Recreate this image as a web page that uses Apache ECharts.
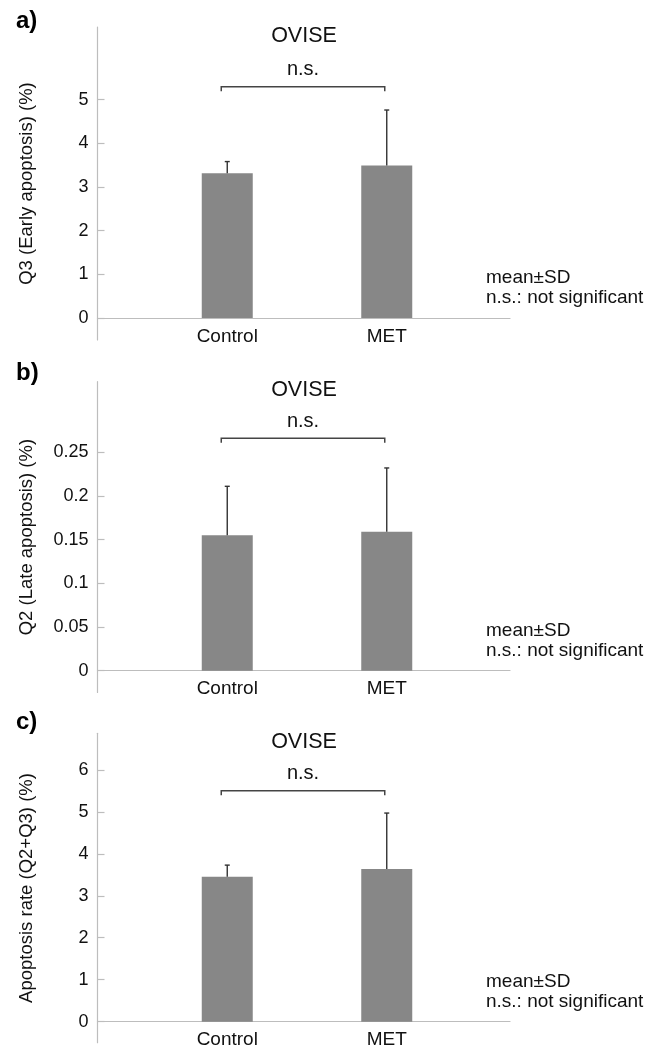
<!DOCTYPE html>
<html>
<head>
<meta charset="utf-8">
<script src="https://cdn.jsdelivr.net/npm/echarts@6/dist/echarts.min.js"></script>
<style>
html,body{margin:0;padding:0;background:#fff;}
#chart{width:654px;height:1049px;}
</style>
</head>
<body>
<div id="chart"></div>
<script>
// ---- data ----
const categories = ['Control', 'MET'];
const q3Mean = [3.31, 3.49];
const q3SD = [0.27, 1.27];
const q2Mean = [0.155, 0.159];
const q2SD = [0.056, 0.073];
const rateMean = [3.45, 3.64];
const rateSD = [0.28, 1.33];
const q3Ticks = [0, 1, 2, 3, 4, 5];
const q2Ticks = [0, 0.05, 0.1, 0.15, 0.2, 0.25];
const rateTicks = [0, 1, 2, 3, 4, 5, 6];
const bracketLevels = [5.29, 0.266, 5.5];
const panelLetters = ['a)', 'b)', 'c)'];
const yNames = ['Q3 (Early apoptosis) (%)', 'Q2 (Late apoptosis) (%)', 'Apoptosis rate (Q2+Q3) (%)'];
const titleText = 'OVISE';
const sigText = 'n.s.';
const noteLines = ['mean\u00b1SD', 'n.s.: not significant'];

// ---- layout ----
const FONT = '"Liberation Sans", Arial, sans-serif';
const W = 654, H = 1049;
const panels = [
  {mean: q3Mean, sd: q3SD, ticks: q3Ticks, min: -0.5, max: 6.66, top: 27, bottom: 340, zero: 318, letterY: 21, titleY: 36},
  {mean: q2Mean, sd: q2SD, ticks: q2Ticks, min: -0.025, max: 0.3307, top: 381.7, bottom: 692.5, zero: 670.7, letterY: 373, titleY: 390},
  {mean: rateMean, sd: rateSD, ticks: rateTicks, min: -0.5, max: 6.87, top: 733.3, bottom: 1042.7, zero: 1021.7, letterY: 722, titleY: 742}
];
const axisColor = '#bdbdbd';
const barColor = '#878787';
const barLeft = 147.5, barRight = W - 466.5;
const axisLeft = 97.5, axisRight = W - 510;

const grid = [], xAxis = [], yAxis = [], series = [], graphic = [];

panels.forEach((p, i) => {
  // main grid with bars: from top down to the zero line
  grid.push({left: barLeft, right: barRight, top: p.top, height: p.zero - p.top, outerBoundsMode: 'none'});
  // frame grid: long axis lines, extends below zero
  grid.push({left: axisLeft, right: axisRight, top: p.top, height: p.bottom - p.top, outerBoundsMode: 'none'});
  const gMain = 2 * i, gBase = 2 * i + 1;

  xAxis.push({
    gridIndex: gMain, type: 'category', data: categories, position: 'bottom',
    axisLine: {show: false}, axisTick: {show: false},
    axisLabel: {fontSize: 19, color: '#111', fontFamily: FONT, margin: 9},
    splitLine: {show: false}
  });
  xAxis.push({
    gridIndex: gBase, type: 'value', min: 0, max: 1,
    axisLine: {show: true, onZero: true, lineStyle: {color: axisColor, width: 1.2}},
    axisTick: {show: false}, axisLabel: {show: false}, splitLine: {show: false}
  });
  yAxis.push({
    gridIndex: gMain, type: 'value', min: 0, max: p.max, offset: barLeft - axisLeft,
    axisLine: {show: false},
    axisTick: {show: true, inside: true, length: 7, lineStyle: {color: axisColor, width: 1.2}, customValues: p.ticks},
    axisLabel: {customValues: p.ticks, margin: 9, fontSize: 18, color: '#111', fontFamily: FONT},
    splitLine: {show: false}
  });
  yAxis.push({
    gridIndex: gBase, type: 'value', min: p.min, max: p.max,
    axisLine: {show: true, onZero: false, lineStyle: {color: axisColor, width: 1.2}},
    axisTick: {show: false}, axisLabel: {show: false}, splitLine: {show: false},
    name: yNames[i], nameLocation: 'middle', nameGap: 61,
    nameTextStyle: {fontSize: 18.5, color: '#111', fontFamily: FONT}
  });

  series.push({
    type: 'bar', xAxisIndex: 2 * i, yAxisIndex: 2 * i,
    data: p.mean, barWidth: 51,
    itemStyle: {color: barColor},
    silent: true, animation: false
  });
  series.push({
    type: 'custom', xAxisIndex: 2 * i, yAxisIndex: 2 * i,
    data: p.mean.map((m, k) => [k, m, p.sd[k]]),
    encode: {x: 0, y: 1},
    renderItem: function (params, api) {
      const base = api.coord([api.value(0), api.value(1)]);
      const top = api.coord([api.value(0), api.value(1) + api.value(2)]);
      return {
        type: 'group', children: [
          {type: 'line', shape: {x1: base[0], y1: base[1], x2: top[0], y2: top[1]}, style: {stroke: '#333', lineWidth: 1.4}},
          {type: 'line', shape: {x1: top[0] - 2.5, y1: top[1], x2: top[0] + 2.5, y2: top[1]}, style: {stroke: '#333', lineWidth: 1.4}}
        ]
      };
    },
    silent: true, animation: false, z: 5
  });
  series.push({
    type: 'custom', xAxisIndex: 2 * i, yAxisIndex: 2 * i,
    data: [[0, 1, bracketLevels[i]]],
    encode: {x: 0, y: 2},
    renderItem: function (params, api) {
      const a = api.coord([api.value(0), api.value(2)]);
      const b = api.coord([api.value(1), api.value(2)]);
      const x0 = a[0] - 6, x1 = b[0] - 2, y = a[1];
      return {
        type: 'group', children: [
          {type: 'polyline', shape: {points: [[x0, y + 4.5], [x0, y], [x1, y], [x1, y + 4.5]]}, style: {stroke: '#444', lineWidth: 1.5, fill: null}},
          {type: 'text', style: {text: sigText, x: (x0 + x1) / 2, y: y - 17, align: 'center', verticalAlign: 'middle', fontSize: 20, fontFamily: FONT, fill: '#111'}}
        ]
      };
    },
    silent: true, animation: false, z: 5
  });

  graphic.push({type: 'text', x: 16, y: p.letterY, style: {text: panelLetters[i], verticalAlign: 'middle', fontSize: 24, fontWeight: 'bold', fontFamily: FONT, fill: '#000'}});
  graphic.push({type: 'text', x: 304, y: p.titleY, style: {text: titleText, align: 'center', verticalAlign: 'middle', fontSize: 21.5, fontFamily: FONT, fill: '#111'}});
  graphic.push({type: 'text', x: 486, y: p.zero - 40, style: {text: noteLines[0], align: 'left', verticalAlign: 'middle', fontSize: 19, fontFamily: FONT, fill: '#111'}});
  graphic.push({type: 'text', x: 486, y: p.zero - 20, style: {text: noteLines[1], align: 'left', verticalAlign: 'middle', fontSize: 19, fontFamily: FONT, fill: '#111'}});
});

const chart = echarts.init(document.getElementById('chart'), null, {renderer: 'canvas'});
chart.setOption({
  animation: false,
  backgroundColor: '#fff',
  grid, xAxis, yAxis, series, graphic
});
</script>
</body>
</html>
